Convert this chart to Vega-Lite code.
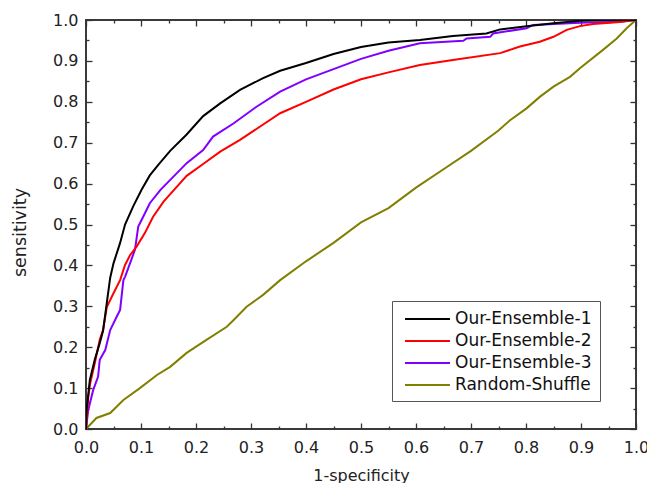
{
  "$schema": "https://vega.github.io/schema/vega-lite/v6.json",
  "width": 550,
  "height": 409,
  "autosize": {"type": "none"},
  "padding": {"left": 86, "top": 20, "right": 11, "bottom": 54},
  "background": "white",
  "config": {
    "font": "DejaVu Sans",
    "view": {"stroke": "#3a3a3a", "strokeWidth": 2},
    "axis": {
      "grid": false,
      "domain": false,
      "tickColor": "#333333",
      "tickWidth": 1.3,
      "labelFont": "DejaVu Sans",
      "labelFontSize": 16,
      "labelColor": "#222222",
      "labelFlush": false,
      "titleFont": "DejaVu Sans",
      "titleFontWeight": "normal",
      "titleColor": "#222222"
    }
  },
  "data": {
    "values": [
      {"series": "Random-Shuffle", "fpr": 0, "tpr": 0},
      {"series": "Random-Shuffle", "fpr": 0.019, "tpr": 0.027},
      {"series": "Random-Shuffle", "fpr": 0.044, "tpr": 0.039},
      {"series": "Random-Shuffle", "fpr": 0.068, "tpr": 0.071},
      {"series": "Random-Shuffle", "fpr": 0.098, "tpr": 0.1},
      {"series": "Random-Shuffle", "fpr": 0.129, "tpr": 0.132},
      {"series": "Random-Shuffle", "fpr": 0.153, "tpr": 0.152},
      {"series": "Random-Shuffle", "fpr": 0.183, "tpr": 0.186},
      {"series": "Random-Shuffle", "fpr": 0.219, "tpr": 0.218},
      {"series": "Random-Shuffle", "fpr": 0.256, "tpr": 0.25},
      {"series": "Random-Shuffle", "fpr": 0.268, "tpr": 0.266},
      {"series": "Random-Shuffle", "fpr": 0.292, "tpr": 0.299},
      {"series": "Random-Shuffle", "fpr": 0.322, "tpr": 0.328},
      {"series": "Random-Shuffle", "fpr": 0.353, "tpr": 0.364},
      {"series": "Random-Shuffle", "fpr": 0.4, "tpr": 0.41},
      {"series": "Random-Shuffle", "fpr": 0.45, "tpr": 0.455},
      {"series": "Random-Shuffle", "fpr": 0.5, "tpr": 0.505},
      {"series": "Random-Shuffle", "fpr": 0.55, "tpr": 0.54},
      {"series": "Random-Shuffle", "fpr": 0.6, "tpr": 0.59},
      {"series": "Random-Shuffle", "fpr": 0.65, "tpr": 0.635},
      {"series": "Random-Shuffle", "fpr": 0.7, "tpr": 0.68},
      {"series": "Random-Shuffle", "fpr": 0.75, "tpr": 0.73},
      {"series": "Random-Shuffle", "fpr": 0.771, "tpr": 0.755},
      {"series": "Random-Shuffle", "fpr": 0.801, "tpr": 0.784},
      {"series": "Random-Shuffle", "fpr": 0.825, "tpr": 0.812},
      {"series": "Random-Shuffle", "fpr": 0.85, "tpr": 0.837},
      {"series": "Random-Shuffle", "fpr": 0.88, "tpr": 0.861},
      {"series": "Random-Shuffle", "fpr": 0.898, "tpr": 0.882},
      {"series": "Random-Shuffle", "fpr": 0.94, "tpr": 0.927},
      {"series": "Random-Shuffle", "fpr": 0.965, "tpr": 0.955},
      {"series": "Random-Shuffle", "fpr": 0.983, "tpr": 0.98},
      {"series": "Random-Shuffle", "fpr": 1, "tpr": 1},

      {"series": "Our-Ensemble-3", "fpr": 0, "tpr": 0},
      {"series": "Our-Ensemble-3", "fpr": 0.004, "tpr": 0.046},
      {"series": "Our-Ensemble-3", "fpr": 0.013, "tpr": 0.095},
      {"series": "Our-Ensemble-3", "fpr": 0.022, "tpr": 0.128},
      {"series": "Our-Ensemble-3", "fpr": 0.025, "tpr": 0.169},
      {"series": "Our-Ensemble-3", "fpr": 0.035, "tpr": 0.193},
      {"series": "Our-Ensemble-3", "fpr": 0.044, "tpr": 0.242},
      {"series": "Our-Ensemble-3", "fpr": 0.056, "tpr": 0.275},
      {"series": "Our-Ensemble-3", "fpr": 0.062, "tpr": 0.291},
      {"series": "Our-Ensemble-3", "fpr": 0.068, "tpr": 0.364},
      {"series": "Our-Ensemble-3", "fpr": 0.071, "tpr": 0.372},
      {"series": "Our-Ensemble-3", "fpr": 0.08, "tpr": 0.405},
      {"series": "Our-Ensemble-3", "fpr": 0.089, "tpr": 0.438},
      {"series": "Our-Ensemble-3", "fpr": 0.095, "tpr": 0.495},
      {"series": "Our-Ensemble-3", "fpr": 0.104, "tpr": 0.519},
      {"series": "Our-Ensemble-3", "fpr": 0.116, "tpr": 0.552},
      {"series": "Our-Ensemble-3", "fpr": 0.135, "tpr": 0.584},
      {"series": "Our-Ensemble-3", "fpr": 0.159, "tpr": 0.617},
      {"series": "Our-Ensemble-3", "fpr": 0.183, "tpr": 0.65},
      {"series": "Our-Ensemble-3", "fpr": 0.213, "tpr": 0.682},
      {"series": "Our-Ensemble-3", "fpr": 0.231, "tpr": 0.715},
      {"series": "Our-Ensemble-3", "fpr": 0.268, "tpr": 0.747},
      {"series": "Our-Ensemble-3", "fpr": 0.31, "tpr": 0.788},
      {"series": "Our-Ensemble-3", "fpr": 0.353, "tpr": 0.825},
      {"series": "Our-Ensemble-3", "fpr": 0.4, "tpr": 0.855},
      {"series": "Our-Ensemble-3", "fpr": 0.45, "tpr": 0.88},
      {"series": "Our-Ensemble-3", "fpr": 0.5, "tpr": 0.905},
      {"series": "Our-Ensemble-3", "fpr": 0.55, "tpr": 0.925},
      {"series": "Our-Ensemble-3", "fpr": 0.607, "tpr": 0.943},
      {"series": "Our-Ensemble-3", "fpr": 0.686, "tpr": 0.949},
      {"series": "Our-Ensemble-3", "fpr": 0.692, "tpr": 0.955},
      {"series": "Our-Ensemble-3", "fpr": 0.735, "tpr": 0.959},
      {"series": "Our-Ensemble-3", "fpr": 0.74, "tpr": 0.967},
      {"series": "Our-Ensemble-3", "fpr": 0.801, "tpr": 0.98},
      {"series": "Our-Ensemble-3", "fpr": 0.813, "tpr": 0.988},
      {"series": "Our-Ensemble-3", "fpr": 0.898, "tpr": 0.993},
      {"series": "Our-Ensemble-3", "fpr": 0.97, "tpr": 0.996},
      {"series": "Our-Ensemble-3", "fpr": 1, "tpr": 1},

      {"series": "Our-Ensemble-2", "fpr": 0, "tpr": 0},
      {"series": "Our-Ensemble-2", "fpr": 0.004, "tpr": 0.075},
      {"series": "Our-Ensemble-2", "fpr": 0.007, "tpr": 0.108},
      {"series": "Our-Ensemble-2", "fpr": 0.016, "tpr": 0.161},
      {"series": "Our-Ensemble-2", "fpr": 0.025, "tpr": 0.218},
      {"series": "Our-Ensemble-2", "fpr": 0.031, "tpr": 0.242},
      {"series": "Our-Ensemble-2", "fpr": 0.038, "tpr": 0.299},
      {"series": "Our-Ensemble-2", "fpr": 0.05, "tpr": 0.332},
      {"series": "Our-Ensemble-2", "fpr": 0.062, "tpr": 0.364},
      {"series": "Our-Ensemble-2", "fpr": 0.071, "tpr": 0.401},
      {"series": "Our-Ensemble-2", "fpr": 0.08, "tpr": 0.425},
      {"series": "Our-Ensemble-2", "fpr": 0.092, "tpr": 0.446},
      {"series": "Our-Ensemble-2", "fpr": 0.107, "tpr": 0.479},
      {"series": "Our-Ensemble-2", "fpr": 0.122, "tpr": 0.519},
      {"series": "Our-Ensemble-2", "fpr": 0.141, "tpr": 0.556},
      {"series": "Our-Ensemble-2", "fpr": 0.165, "tpr": 0.592},
      {"series": "Our-Ensemble-2", "fpr": 0.183, "tpr": 0.619},
      {"series": "Our-Ensemble-2", "fpr": 0.213, "tpr": 0.648},
      {"series": "Our-Ensemble-2", "fpr": 0.244, "tpr": 0.678},
      {"series": "Our-Ensemble-2", "fpr": 0.28, "tpr": 0.707},
      {"series": "Our-Ensemble-2", "fpr": 0.316, "tpr": 0.739},
      {"series": "Our-Ensemble-2", "fpr": 0.353, "tpr": 0.772},
      {"series": "Our-Ensemble-2", "fpr": 0.4, "tpr": 0.8},
      {"series": "Our-Ensemble-2", "fpr": 0.45, "tpr": 0.83},
      {"series": "Our-Ensemble-2", "fpr": 0.5, "tpr": 0.855},
      {"series": "Our-Ensemble-2", "fpr": 0.55, "tpr": 0.872},
      {"series": "Our-Ensemble-2", "fpr": 0.607, "tpr": 0.89},
      {"series": "Our-Ensemble-2", "fpr": 0.667, "tpr": 0.902},
      {"series": "Our-Ensemble-2", "fpr": 0.753, "tpr": 0.919},
      {"series": "Our-Ensemble-2", "fpr": 0.789, "tpr": 0.935},
      {"series": "Our-Ensemble-2", "fpr": 0.825, "tpr": 0.947},
      {"series": "Our-Ensemble-2", "fpr": 0.85, "tpr": 0.959},
      {"series": "Our-Ensemble-2", "fpr": 0.874, "tpr": 0.976},
      {"series": "Our-Ensemble-2", "fpr": 0.898, "tpr": 0.985},
      {"series": "Our-Ensemble-2", "fpr": 0.922, "tpr": 0.99},
      {"series": "Our-Ensemble-2", "fpr": 0.971, "tpr": 0.995},
      {"series": "Our-Ensemble-2", "fpr": 1, "tpr": 1},

      {"series": "Our-Ensemble-1", "fpr": 0, "tpr": 0},
      {"series": "Our-Ensemble-1", "fpr": 0.001, "tpr": 0.046},
      {"series": "Our-Ensemble-1", "fpr": 0.007, "tpr": 0.12},
      {"series": "Our-Ensemble-1", "fpr": 0.016, "tpr": 0.17},
      {"series": "Our-Ensemble-1", "fpr": 0.025, "tpr": 0.21},
      {"series": "Our-Ensemble-1", "fpr": 0.031, "tpr": 0.24},
      {"series": "Our-Ensemble-1", "fpr": 0.038, "tpr": 0.31},
      {"series": "Our-Ensemble-1", "fpr": 0.044, "tpr": 0.37},
      {"series": "Our-Ensemble-1", "fpr": 0.05, "tpr": 0.405},
      {"series": "Our-Ensemble-1", "fpr": 0.062, "tpr": 0.455},
      {"series": "Our-Ensemble-1", "fpr": 0.071, "tpr": 0.5},
      {"series": "Our-Ensemble-1", "fpr": 0.086, "tpr": 0.545},
      {"series": "Our-Ensemble-1", "fpr": 0.101, "tpr": 0.585},
      {"series": "Our-Ensemble-1", "fpr": 0.116, "tpr": 0.62},
      {"series": "Our-Ensemble-1", "fpr": 0.131, "tpr": 0.645},
      {"series": "Our-Ensemble-1", "fpr": 0.153, "tpr": 0.68},
      {"series": "Our-Ensemble-1", "fpr": 0.183, "tpr": 0.72},
      {"series": "Our-Ensemble-1", "fpr": 0.213, "tpr": 0.765},
      {"series": "Our-Ensemble-1", "fpr": 0.244, "tpr": 0.796},
      {"series": "Our-Ensemble-1", "fpr": 0.28, "tpr": 0.829},
      {"series": "Our-Ensemble-1", "fpr": 0.322, "tpr": 0.858},
      {"series": "Our-Ensemble-1", "fpr": 0.353, "tpr": 0.876},
      {"series": "Our-Ensemble-1", "fpr": 0.4, "tpr": 0.895},
      {"series": "Our-Ensemble-1", "fpr": 0.45, "tpr": 0.917},
      {"series": "Our-Ensemble-1", "fpr": 0.5, "tpr": 0.934},
      {"series": "Our-Ensemble-1", "fpr": 0.55, "tpr": 0.945},
      {"series": "Our-Ensemble-1", "fpr": 0.607, "tpr": 0.951},
      {"series": "Our-Ensemble-1", "fpr": 0.667, "tpr": 0.961},
      {"series": "Our-Ensemble-1", "fpr": 0.728, "tpr": 0.967},
      {"series": "Our-Ensemble-1", "fpr": 0.753, "tpr": 0.977},
      {"series": "Our-Ensemble-1", "fpr": 0.801, "tpr": 0.985},
      {"series": "Our-Ensemble-1", "fpr": 0.85, "tpr": 0.992},
      {"series": "Our-Ensemble-1", "fpr": 0.898, "tpr": 0.998},
      {"series": "Our-Ensemble-1", "fpr": 0.95, "tpr": 1},
      {"series": "Our-Ensemble-1", "fpr": 1, "tpr": 1}
    ]
  },
  "layer": [
    {
      "mark": {"type": "line", "strokeWidth": 2, "clip": true},
      "encoding": {
        "x": {
          "field": "fpr", "type": "quantitative",
          "scale": {"domain": [0, 1], "nice": false, "zero": false},
          "axis": {
            "orient": "bottom",
            "title": "1-specificity",
            "titleFontSize": 16,
            "titlePadding": 12,
            "values": [0, 0.1, 0.2, 0.3, 0.4, 0.5, 0.6, 0.7, 0.8, 0.9, 1],
            "format": ".1f",
            "offset": -6,
            "tickSize": 6,
            "labelPadding": 10
          }
        },
        "y": {
          "field": "tpr", "type": "quantitative",
          "scale": {"domain": [0, 1], "nice": false, "zero": false},
          "axis": {
            "orient": "left",
            "title": "sensitivity",
            "titleFontSize": 17.5,
            "titlePadding": 23,
            "titleY": 212,
            "values": [0, 0.1, 0.2, 0.3, 0.4, 0.5, 0.6, 0.7, 0.8, 0.9, 1],
            "format": ".1f",
            "offset": -6,
            "tickSize": 6,
            "labelPadding": 8
          }
        },
        "color": {
          "field": "series", "type": "nominal",
          "scale": {
            "domain": ["Our-Ensemble-1", "Our-Ensemble-2", "Our-Ensemble-3", "Random-Shuffle"],
            "range": ["#000000", "#ff0000", "#8000ff", "#808000"]
          },
          "legend": {
            "title": null,
            "orient": "none",
            "legendX": 306,
            "legendY": 281,
            "symbolType": "M-2.5,0H2.5",
            "symbolSize": 324,
            "symbolStrokeWidth": 2,
            "symbolOffset": 17.5,
            "labelFont": "DejaVu Sans",
            "labelFontSize": 17,
            "labelColor": "#111111",
            "labelOffset": 17.5,
            "rowPadding": 4,
            "strokeColor": "#555555",
            "fillColor": "white",
            "padding": 8
          }
        }
      }
    },
    {
      "mark": {"type": "line", "opacity": 0},
      "encoding": {
        "x": {
          "field": "fpr", "type": "quantitative",
          "scale": {"domain": [0, 1], "nice": false, "zero": false},
          "axis": {
            "orient": "bottom", "title": null, "labels": false,
            "values": [0.05, 0.15, 0.25, 0.35, 0.45, 0.55, 0.65, 0.75, 0.85, 0.95],
            "offset": -3, "tickSize": 3
          }
        },
        "y": {
          "field": "tpr", "type": "quantitative",
          "scale": {"domain": [0, 1], "nice": false, "zero": false},
          "axis": {
            "orient": "left", "title": null, "labels": false,
            "values": [0.05, 0.15, 0.25, 0.35, 0.45, 0.55, 0.65, 0.75, 0.85, 0.95],
            "offset": -3, "tickSize": 3
          }
        },
        "detail": {"field": "series", "type": "nominal"}
      }
    },
    {
      "mark": {"type": "line", "opacity": 0},
      "encoding": {
        "x": {
          "field": "fpr", "type": "quantitative",
          "scale": {"domain": [0, 1], "nice": false, "zero": false},
          "axis": {
            "orient": "top", "title": null, "labels": false,
            "values": [0, 0.1, 0.2, 0.3, 0.4, 0.5, 0.6, 0.7, 0.8, 0.9, 1],
            "offset": -6, "tickSize": 6
          }
        },
        "y": {
          "field": "tpr", "type": "quantitative",
          "scale": {"domain": [0, 1], "nice": false, "zero": false},
          "axis": {
            "orient": "right", "title": null, "labels": false,
            "values": [0, 0.1, 0.2, 0.3, 0.4, 0.5, 0.6, 0.7, 0.8, 0.9, 1],
            "offset": -6, "tickSize": 6
          }
        },
        "detail": {"field": "series", "type": "nominal"}
      }
    },
    {
      "mark": {"type": "line", "opacity": 0},
      "encoding": {
        "x": {
          "field": "fpr", "type": "quantitative",
          "scale": {"domain": [0, 1], "nice": false, "zero": false},
          "axis": {
            "orient": "top", "title": null, "labels": false,
            "values": [0.05, 0.15, 0.25, 0.35, 0.45, 0.55, 0.65, 0.75, 0.85, 0.95],
            "offset": -3, "tickSize": 3
          }
        },
        "y": {
          "field": "tpr", "type": "quantitative",
          "scale": {"domain": [0, 1], "nice": false, "zero": false},
          "axis": {
            "orient": "right", "title": null, "labels": false,
            "values": [0.05, 0.15, 0.25, 0.35, 0.45, 0.55, 0.65, 0.75, 0.85, 0.95],
            "offset": -3, "tickSize": 3
          }
        },
        "detail": {"field": "series", "type": "nominal"}
      }
    }
  ],
  "resolve": {"scale": {"x": "independent", "y": "independent"}}
}
